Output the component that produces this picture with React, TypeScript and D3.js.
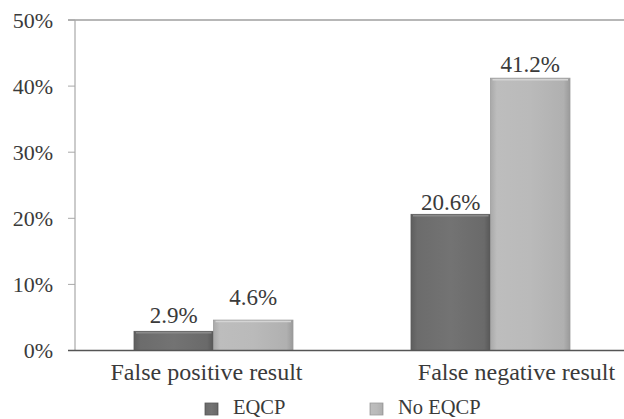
import React from "react";
import * as d3 from "d3";

const categories = ["False positive result", "False negative result"];
const series = ["EQCP", "No EQCP"];
const eqcpValues = [2.9, 20.6];
const noEqcpValues = [4.6, 41.2];
const yTicks = [0, 10, 20, 30, 40, 50];

const W = 624;
const H = 419;
const FONT = "Liberation Serif, Times New Roman, Times, DejaVu Serif, serif";
const TEXT = "#3a3a3a";

export default function App() {
  const y = d3.scaleLinear().domain([0, 50]).range([350.5, 20]);
  const x0 = d3
    .scaleBand<string>()
    .domain(categories)
    .range([75, 629])
    .paddingInner(0.426)
    .paddingOuter(0.213);
  const x1 = d3.scaleBand<string>().domain(series).range([0, x0.bandwidth()]).padding(0);
  const valuesBySeries: Record<string, number[]> = {
    EQCP: eqcpValues,
    "No EQCP": noEqcpValues,
  };
  const labelDx = [-7, 26];
  const labelGap = [8, 15, 4, 6];
  const txt = (size: number): React.CSSProperties => ({ fontFamily: FONT, fontSize: size, fill: TEXT });

  return (
    <svg
      width={W}
      height={H}
      style={{ position: "absolute", left: 0, top: 0, display: "block", background: "#fff" }}
    >
      <defs>
        <linearGradient id="gDark" x1="0" x2="1" y1="0" y2="0">
          <stop offset="0" stopColor="#5e5e5e" />
          <stop offset="0.08" stopColor="#6c6c6c" />
          <stop offset="0.5" stopColor="#737373" />
          <stop offset="0.92" stopColor="#6a6a6a" />
          <stop offset="1" stopColor="#575757" />
        </linearGradient>
        <linearGradient id="gLight" x1="0" x2="1" y1="0" y2="0">
          <stop offset="0" stopColor="#a9a9a9" />
          <stop offset="0.08" stopColor="#bdbdbd" />
          <stop offset="0.5" stopColor="#bababa" />
          <stop offset="0.92" stopColor="#b0b0b0" />
          <stop offset="1" stopColor="#9a9a9a" />
        </linearGradient>
      </defs>

      {/* axes */}
      <line x1={68} x2={W} y1={y(50)} y2={y(50)} stroke="#707070" strokeWidth={1.2} />
      <line x1={75} x2={75} y1={y(50)} y2={y(0)} stroke="#a8a8a8" strokeWidth={1.2} />
      {yTicks.map((t) => (
        <g key={t}>
          <line x1={68} x2={75} y1={y(t)} y2={y(t)} stroke="#a8a8a8" strokeWidth={1} />
          <text x={53} y={y(t)} dy="0.35em" textAnchor="end" style={txt(22)}>
            {t}%
          </text>
        </g>
      ))}

      {/* bars */}
      {categories.map((c, ci) =>
        series.map((s, si) => {
          const v = valuesBySeries[s][ci];
          const bx = (x0(c) ?? 0) + (x1(s) ?? 0);
          const bw = x1.bandwidth();
          const by = y(v);
          const bh = y(0) - by;
          return (
            <g key={c + s}>
              <rect
                x={bx}
                y={by}
                width={bw}
                height={bh}
                fill={si === 0 ? "url(#gDark)" : "url(#gLight)"}
                stroke={si === 0 ? "#5a5a5a" : "#9c9c9c"}
                strokeWidth={0.8}
              />
              <line
                x1={bx + 2}
                x2={bx + bw - 2}
                y1={by + 1.5}
                y2={by + 1.5}
                stroke={si === 0 ? "#8a8a8a" : "#d4d4d4"}
                strokeWidth={1.5}
              />
              <text
                x={bx + bw / 2}
                y={by - labelGap[ci * 2 + si]}
                textAnchor="middle"
                style={txt(23)}
              >
                {v.toFixed(1)}%
              </text>
            </g>
          );
        })
      )}

      <line x1={68} x2={W} y1={y(0)} y2={y(0)} stroke="#555" strokeWidth={1.5} />

      {/* category labels */}
      {categories.map((c, ci) => (
        <text
          key={c}
          x={(x0(c) ?? 0) + x0.bandwidth() / 2 + labelDx[ci]}
          y={380}
          textAnchor="middle"
          style={txt(24)}
        >
          {c}
        </text>
      ))}

      {/* legend */}
      {series.map((s, si) => {
        const lx = si === 0 ? 205 : 370;
        return (
          <g key={s}>
            <rect
              x={lx}
              y={403}
              width={13}
              height={12}
              fill={si === 0 ? "url(#gDark)" : "url(#gLight)"}
              stroke={si === 0 ? "#5a5a5a" : "#9c9c9c"}
              strokeWidth={0.8}
            />
            <text x={lx + 28} y={414} style={txt(20.5)}>
              {s}
            </text>
          </g>
        );
      })}
    </svg>
  );
}
